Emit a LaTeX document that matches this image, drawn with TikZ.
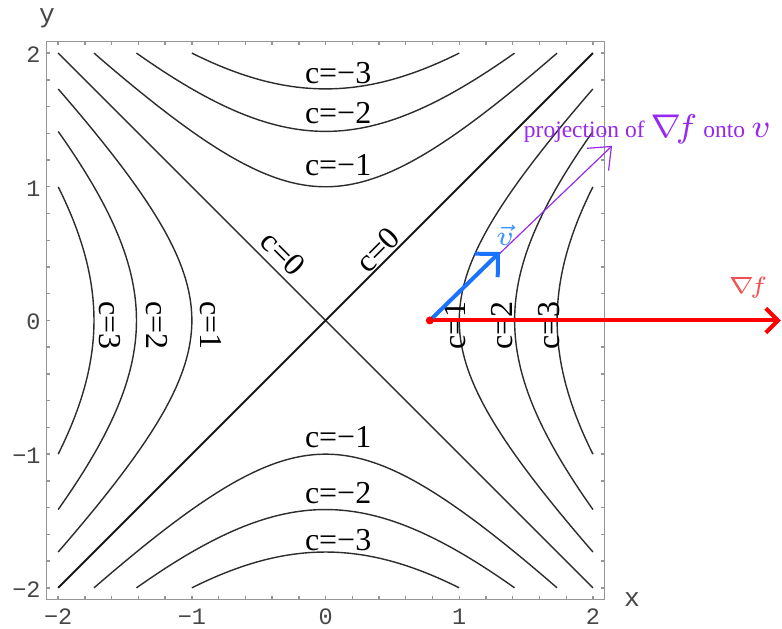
\documentclass[tikz,border=0pt]{standalone}
\usepackage{fontspec}
\setmainfont{Liberation Serif}
\newfontfamily\monof{Liberation Mono}
\usetikzlibrary{arrows.meta}
\definecolor{framegray}{RGB}{150,150,150}
\definecolor{ticktext}{RGB}{70,70,70}
\definecolor{curvecol}{RGB}{45,45,45}
\definecolor{projcol}{RGB}{150,40,240}
\definecolor{vcol}{RGB}{25,115,255}
\definecolor{vlabcol}{RGB}{60,150,255}
\definecolor{gradlab}{RGB}{240,80,80}
\begin{document}
\begin{tikzpicture}[x=1cm,y=1cm,
  contour/.style={line width=0.3pt, draw=curvecol},
  framestyle/.style={line width=0.3pt, draw=framegray},
  clabel/.style={font=\fontsize{6.8}{7}\selectfont, inner sep=0pt},
  ticklab/.style={font=\monof\fontsize{5}{6}\selectfont, text=ticktext, inner sep=0pt},
  axlab/.style={font=\monof\fontsize{5.6}{6}\selectfont, text=ticktext, inner sep=0pt},
  gradarrow/.style={draw=red, line width=0.85pt, -{Straight Barb[length=2.6pt,width=5.2pt]}},
  varrow/.style={draw=vcol, line width=0.85pt, -{Straight Barb[length=3.5pt,width=7pt]}},
  projarrow/.style={draw=projcol, line width=0.25pt, -{Straight Barb[length=4pt,width=6.6pt]}}]
\useasboundingbox (-2.435,-2.307) rectangle (3.414,2.397);
% frame
\draw[framestyle] (-2.085,-2.085) rectangle (2.085,2.085);
\foreach \i in {-10,...,10}{
  \pgfmathsetmacro\t{\i/5}
  \draw[framestyle] (\t,-2.085) -- (\t,-2.06);
  \draw[framestyle] (\t,2.085) -- (\t,2.06);
  \draw[framestyle] (-2.085,\t) -- (-2.06,\t);
  \draw[framestyle] (2.085,\t) -- (2.06,\t);
}
% tick labels
\foreach \v/\s in {-2/−2,-1/−1,0/0,1/1,2/2}{
  \node[ticklab] (xt\v) at (\v,-2.218) {\s};
  \node[ticklab, anchor=east] (yt\v) at (-2.125,\v-0.012) {\s};
}
\node[axlab] (xlab) at (2.292,-2.09) {x};
\node[axlab] (ylab) at (-2.083,2.26) {y};
% contours c = 0
\draw[contour] (-2,2) -- (2,-2);
\draw[contour, line width=0.4pt, draw=black!90] (-2,-2) -- (2,2);
% contours c > 0
\foreach \c in {1,2,3}{
  \pgfmathsetmacro\m{sqrt(4-\c)}
  \draw[contour] plot[domain=-\m:\m, samples=60, smooth] ({sqrt(\c+\x*\x)},\x);
  \draw[contour] plot[domain=-\m:\m, samples=60, smooth] ({-sqrt(\c+\x*\x)},\x);
}
% contours c < 0
\foreach \c in {1,2,3}{
  \pgfmathsetmacro\m{sqrt(4-\c)}
  \draw[contour] plot[domain=-\m:\m, samples=60, smooth] (\x,{sqrt(\c+\x*\x)});
  \draw[contour] plot[domain=-\m:\m, samples=60, smooth] (\x,{-sqrt(\c+\x*\x)});
}
% contour labels
\node[clabel] (lt3) at (0.094,1.85) {c=−3};
\node[clabel] (lt2) at (0.094,1.55) {c=−2};
\node[clabel] (lt1) at (0.094,1.16) {c=−1};
\node[clabel] (lb1) at (0.094,-0.87) {c=−1};
\node[clabel] (lb2) at (0.094,-1.29) {c=−2};
\node[clabel] (lb3) at (0.094,-1.64) {c=−3};
\node[clabel, rotate=-90] (ll3) at (-1.61,-0.04) {c=3};
\node[clabel, rotate=-90] (ll2) at (-1.26,-0.04) {c=2};
\node[clabel, rotate=-90] (ll1) at (-0.86,-0.04) {c=1};
\node[clabel, rotate=90] (lr1) at (0.97,-0.04) {c=1};
\node[clabel, rotate=90] (lr2) at (1.32,-0.04) {c=2};
\node[clabel, rotate=90] (lr3) at (1.67,-0.04) {c=3};
\node[clabel, rotate=-45] (ld1) at (-0.32,0.50) {c=0};
\node[clabel, rotate=45] (ld2) at (0.39,0.53) {c=0};
% vectors
\coordinate (P) at (0.78,0);
\coordinate (gradtip) at (3.405,0);
\coordinate (vtip) at (1.305,0.512);
\coordinate (projtip) at (2.143,1.306);
\draw[projarrow] (P) -- (projtip);
\draw[gradarrow] (P) -- (gradtip);
\draw[varrow] (P) -- (vtip);
\node[circle, fill=red, inner sep=0pt, minimum size=0.06cm] (dot) at (P) {};
% vector labels
\node[text=vlabcol, inner sep=0pt, font=\fontsize{6}{7}\selectfont] (vlab) at (1.343,0.64) {$\vec{v}$};
\node[text=gradlab, inner sep=0pt, font=\fontsize{4.8}{6}\selectfont] (glab) at (3.16,0.243) {$\nabla\! f$};
\node[text=projcol, inner sep=0pt, anchor=base west] (plab) at (1.477,1.365)
  {\fontsize{5}{6}\selectfont projection of {\fontsize{6.6}{8}\selectfont$\nabla\! f$} onto {\fontsize{6.6}{8}\selectfont$v$}};
\end{tikzpicture}
\end{document}
